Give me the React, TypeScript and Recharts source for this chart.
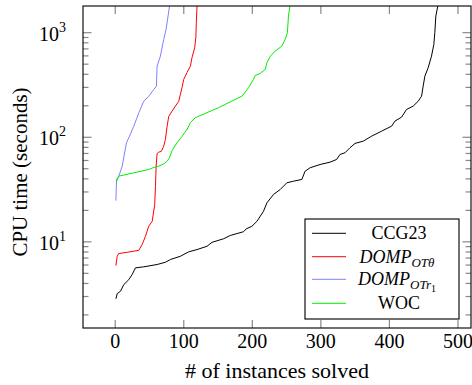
import { LineChart, Line, XAxis, YAxis } from 'recharts'

// CCG23
const ccgSolved = [1, 2.9, 7.7, 12.5, 19.8, 24.7, 29.5, 41.6, 61.1, 73.2, 80.5, 95.1, 107.1, 119.4, 133.9, 141.2, 158.1, 167.8, 187.2, 191.1, 199.4, 206.7, 216.3, 221.3, 230.9, 240.6, 250.4, 260, 272.2, 277, 284.3, 298.8, 313.4, 323.1, 327.9, 335.2, 342.5, 349.8, 361.9, 374.1, 388.6, 403.2, 408, 417.8, 425, 434.6, 441.9, 446.9, 449.2, 451.7, 456.5, 461.4, 464.8, 466.2, 467.7, 471]
const ccgTime = [2.85, 3.2, 3.37, 3.9, 4.35, 4.86, 5.64, 5.77, 6.07, 6.38, 6.78, 7.28, 8.02, 8.44, 9.07, 9.9, 10.7, 11.5, 12.5, 13.3, 14.1, 15.7, 19.6, 23.6, 28.4, 31.6, 36.7, 38, 39.5, 47.4, 51.1, 54.9, 57.8, 61.4, 68.5, 71.1, 79.4, 87.3, 91.9, 102.5, 114.4, 127.7, 142.6, 156, 184.5, 198.5, 221, 247, 308, 384, 462, 597, 773, 1000, 1443, 1860]

// DOMP_OTθ
const thetaSolved = [1, 2.9, 5.2, 17.5, 34.4, 39.3, 44.1, 48.9, 53.9, 57.6, 58.7, 59.7, 61.1, 63.5, 67.4, 70.7, 73.2, 75.7, 78, 83, 87.8, 92.6, 97.5, 99.9, 104.8, 109.6, 112.1, 115.9, 117.6, 118.3, 119.4]
const thetaTime = [5.93, 7.28, 7.73, 7.95, 8.29, 9.43, 11.3, 14.1, 15.7, 22.7, 33.8, 52.8, 70, 72, 73.6, 82.2, 95.3, 127, 158, 178, 199, 220, 300, 357, 417, 479, 580, 718, 902, 1247, 1860]

// DOMP_OTr1
const r1Solved = [1, 1.9, 5.2, 10.2, 16.4, 19.8, 27.1, 34.4, 41.6, 48.9, 56.2, 60.1, 61.1, 65.9, 70.7, 74.2, 77.1, 79.5]
const r1Time = [24.8, 39.4, 42.5, 52.9, 88.5, 98.8, 127.6, 171, 221, 247, 286, 308, 479, 597, 862, 1077, 1443, 1860]

// WOC
const wocSolved = [1.5, 5.2, 27.1, 48.9, 56.2, 63.5, 70.7, 75.7, 79, 83, 90.2, 97.5, 104.8, 109.6, 116.9, 133.9, 150.8, 167.8, 184.9, 194.5, 201.7, 204.2, 211.5, 218.8, 221.3, 226.1, 233.3, 243.1, 247.9, 251.2, 252.7, 255.2]
const wocTime = [37.2, 42.5, 45.7, 49.2, 51.4, 52.9, 55.7, 59, 63.6, 74.8, 88.6, 102, 119, 138, 154, 172, 192, 218, 247, 298, 358, 390, 408, 446, 517, 593, 667, 745, 863, 1000, 1443, 1860]

const xTicks = [0, 100, 200, 300, 400, 500]
const yTicks = [2, 3, 4, 5, 6, 7, 8, 9, 10, 20, 30, 40, 50, 60, 70, 80, 90, 100, 200, 300, 400, 500, 600, 700, 800, 900, 1000]

const zip = (xs: number[], ys: number[]) => xs.map((x, i) => ({ x, y: ys[i] }))

const FONT = '"Liberation Serif", "Times New Roman", serif'
const TICK = '#888'
const FRAME = '#111'

// plot box edges (used for the mirrored ticks on top / right)
const TOP = 6
const RIGHT = 471

const isMajor = (v: number) => Math.abs(Math.log10(v) - Math.round(Math.log10(v))) < 1e-9

const BottomTick = ({ x, y, payload }: any) => (
  <g style={{ fontFamily: FONT }}>
    <line x1={x} x2={x} y1={y} y2={y - 8} stroke={TICK} strokeWidth={1.2} />
    <line x1={x} x2={x} y1={TOP} y2={TOP + 8} stroke={TICK} strokeWidth={1.2} />
    <text x={x} y={y + 20} textAnchor="middle" fontSize={20} fill="#000">
      {payload.value}
    </text>
  </g>
)

const LeftTick = ({ x, y, payload }: any) => {
  const v = payload.value
  const major = isMajor(v)
  const len = major ? 8.5 : 5.5
  return (
    <g style={{ fontFamily: FONT }}>
      <line x1={x} x2={x + len} y1={y} y2={y} stroke={TICK} strokeWidth={1.2} />
      <line x1={RIGHT} x2={RIGHT - len} y1={y} y2={y} stroke={TICK} strokeWidth={1.2} />
      {major && (
        <text x={x - 17} y={y + 8} textAnchor="end" fontSize={20} fill="#000">
          10<tspan dy={-9} fontSize={14}>{Math.round(Math.log10(v))}</tspan>
        </text>
      )}
    </g>
  )
}

const series = [
  { name: 'CCG23', color: '#000000', data: zip(ccgSolved, ccgTime) },
  { name: 'theta', color: '#ff0000', data: zip(thetaSolved, thetaTime) },
  { name: 'r1', color: '#8080ff', data: zip(r1Solved, r1Time) },
  { name: 'WOC', color: '#00ee00', data: zip(wocSolved, wocTime) },
]

function LegendBox() {
  const rows = [15.3, 38.7, 61.3, 85.3]
  return (
    <svg width={156} height={102} style={{ position: 'absolute', left: 303.5, top: 217.5 }}>
      <rect x={1} y={1} width={154} height={100} fill="#fff" stroke={FRAME} strokeWidth={1.2} />
      {series.map((s, i) => (
        <line key={s.name} x1={8} x2={42} y1={rows[i]} y2={rows[i]} stroke={s.color} strokeWidth={1} />
      ))}
      <g style={{ fontFamily: FONT }} fontSize={18} fill="#000" textAnchor="middle">
        <text x={95} y={21}>CCG23</text>
        <text x={93} y={45}>
          <tspan fontStyle="italic">DOMP</tspan>
          <tspan fontStyle="italic" fontSize={13} dy={4}>OTθ</tspan>
        </text>
        <text x={93} y={67}>
          <tspan fontStyle="italic">DOMP</tspan>
          <tspan fontStyle="italic" fontSize={13} dy={4}>OTr</tspan>
          <tspan fontSize={10} dy={3}>1</tspan>
        </text>
        <text x={95} y={91}>WOC</text>
      </g>
    </svg>
  )
}

export default function App() {
  return (
    <div
      style={{
        position: 'absolute', left: 0, top: 0, width: 472, height: 385,
        background: '#fff', fontFamily: FONT,
      }}
    >
      <LineChart width={472} height={385} margin={{ top: TOP, right: 472 - RIGHT, bottom: 0, left: 0 }}>
        <XAxis
          xAxisId="b"
          type="number"
          dataKey="x"
          domain={[-47, 519]}
          ticks={xTicks}
          height={57}
          allowDataOverflow
          tickSize={0}
          tickMargin={0}
          tickLine={false}
          axisLine={false}
          tick={<BottomTick />}
          interval={0}
        />
        <YAxis
          yAxisId="l"
          type="number"
          scale="log"
          domain={[1.5, 1800]}
          ticks={yTicks}
          width={83}
          allowDataOverflow
          tickSize={0}
          tickMargin={0}
          tickLine={false}
          axisLine={false}
          tick={<LeftTick />}
          interval={0}
        />
        {series.map((s) => (
          <Line
            key={s.name}
            xAxisId="b"
            yAxisId="l"
            data={s.data}
            dataKey="y"
            type="linear"
            stroke={s.color}
            strokeWidth={1}
            dot={false}
            isAnimationActive={false}
          />
        ))}
      </LineChart>
      <svg width={472} height={385} style={{ position: 'absolute', left: 0, top: 0, pointerEvents: 'none' }}>
        <rect x={83} y={TOP} width={RIGHT - 83} height={328 - TOP} fill="none" stroke={FRAME} strokeWidth={1.2} />
        <g style={{ fontFamily: FONT }} fill="#000">
          <text x={20} y={172} transform="rotate(-90 20 172)" textAnchor="middle" dominantBaseline="central" fontSize={21}>
            CPU time (seconds)
          </text>
          <text x={277} y={378} textAnchor="middle" fontSize={22}>
            # of instances solved
          </text>
        </g>
      </svg>
      <LegendBox />
    </div>
  )
}
